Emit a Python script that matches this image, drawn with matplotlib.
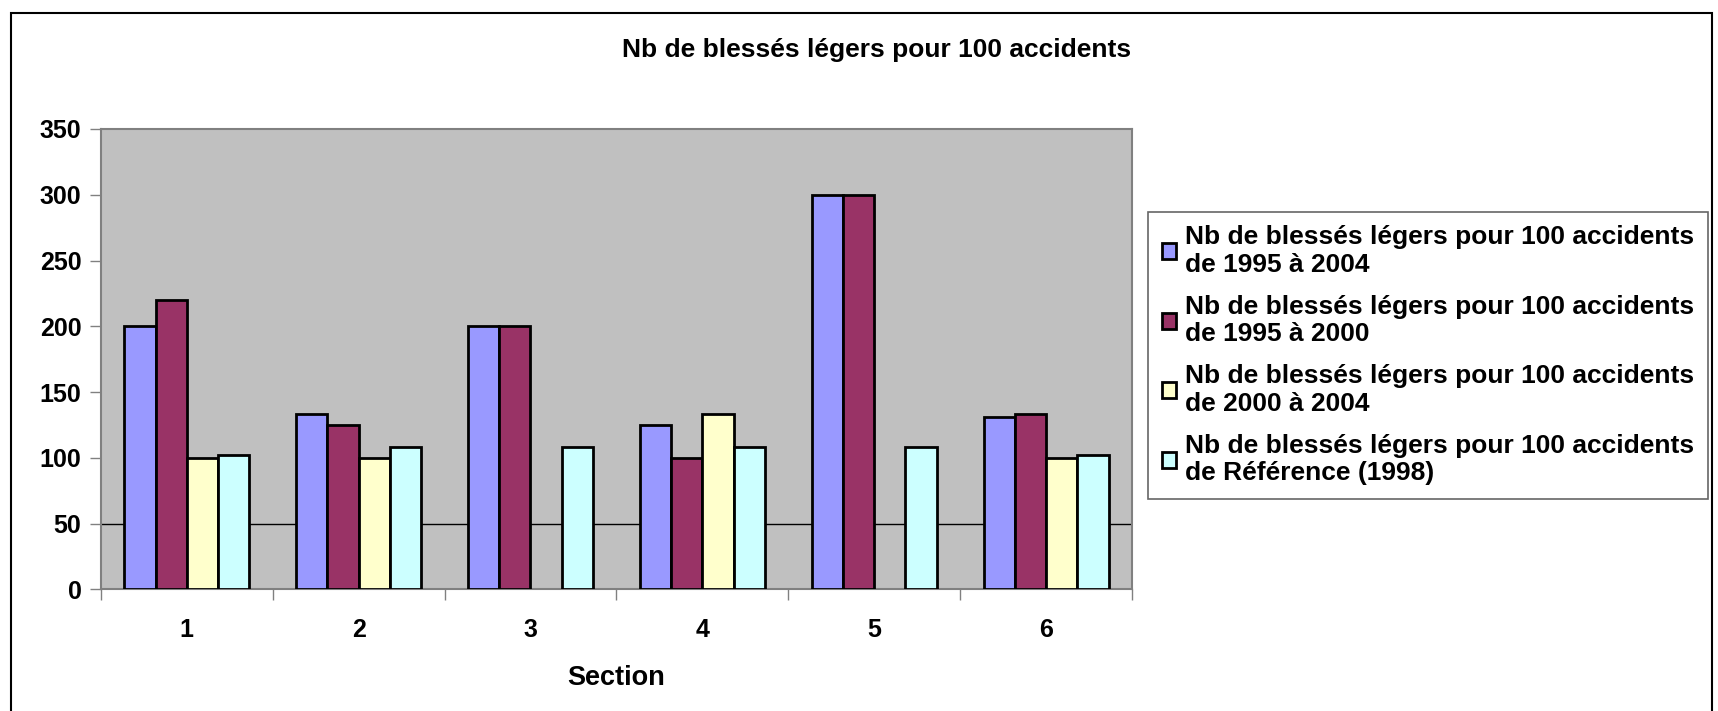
import matplotlib
matplotlib.use('Agg')
from matplotlib import pyplot as plt
from matplotlib.patches import Rectangle
import numpy as np

plt.rcParams['font.family'] = ['Liberation Sans', 'DejaVu Sans']
plt.rcParams['font.weight'] = 'bold'

sections = ['1', '2', '3', '4', '5', '6']
s_1995_2004 = [200, 133, 200, 125, 300, 131]
s_1995_2000 = [220, 125, 200, 100, 300, 133]
s_2000_2004 = [100, 100, np.nan, 133, np.nan, 100]
s_ref_1998 = [102, 108, 108, 108, 108, 102]

labels = ['Nb de blessés légers pour 100 accidents\nde 1995 à 2004',
          'Nb de blessés légers pour 100 accidents\nde 1995 à 2000',
          'Nb de blessés légers pour 100 accidents\nde 2000 à 2004',
          'Nb de blessés légers pour 100 accidents\nde Référence (1998)']
colors = ['#9999FF', '#993366', '#FFFFCC', '#CCFFFF']

fig = plt.figure(figsize=(17.18, 7.11), dpi=100)
ax = fig.add_axes([0.0587, 0.1709, 0.6002, 0.6477])
ax.set_facecolor('#C0C0C0')

x = np.arange(len(sections))
w = 1 / 5.5
series = [s_1995_2004, s_1995_2000, s_2000_2004, s_ref_1998]
for i, (vals, c, lab) in enumerate(zip(series, colors, labels)):
    ax.bar(x + (i - 1.5) * w, vals, w, color=c, edgecolor='black',
           linewidth=2, label=lab, zorder=3)

ax.axhline(50, color='black', linewidth=1, zorder=1)
ax.set_xlim(-0.5, len(sections) - 0.5)
ax.set_ylim(0, 350)
ax.set_yticks(range(0, 351, 50))
ax.set_xticks(np.arange(-0.5, len(sections), 1))
ax.set_xticklabels([])
ax.set_xticks(x, minor=True)
ax.set_xticklabels(sections, minor=True)
ax.tick_params(axis='x', which='minor', length=0, pad=20.5, labelsize=18)
ax.tick_params(axis='x', which='major', length=8, width=1, color='#808080')
ax.tick_params(axis='y', length=8, width=1, color='#808080', labelsize=18, pad=6)
for sp in ax.spines.values():
    sp.set_color('#808080')
    sp.set_linewidth(1.5)

ax.set_xlabel('Section', fontsize=19.5, fontweight='bold', labelpad=16.5)
fig.text(0.51, 0.929, 'Nb de blessés légers pour 100 accidents', ha='center',
         va='center', fontsize=19, fontweight='bold')

leg = ax.legend(loc='upper left', bbox_to_anchor=(0.6685, 0.7018),
                bbox_transform=fig.transFigure, fontsize=19, frameon=True,
                fancybox=False, edgecolor='#404040', handlelength=0.55,
                handleheight=0.55, handletextpad=0.35, labelspacing=0.67,
                borderpad=0.5, borderaxespad=0)
leg.get_frame().set_linewidth(1.2)

fig.patches.append(Rectangle((11 / 1718, -0.05), 1701 / 1718, 1.05 - 13 / 711,
                             transform=fig.transFigure, fill=False,
                             edgecolor='black', linewidth=1.5))

fig.savefig('out.png', dpi=100)
